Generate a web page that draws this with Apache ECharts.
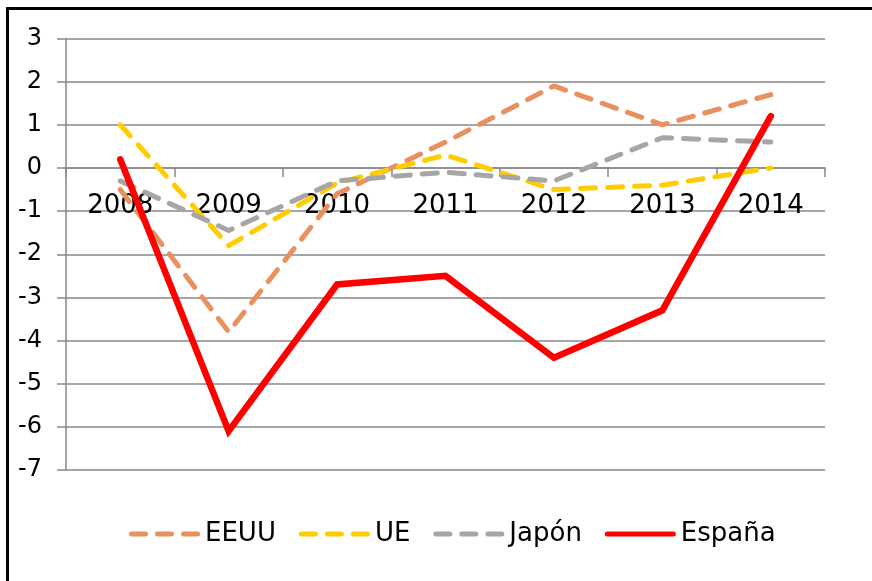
<!DOCTYPE html>
<html>
<head>
<meta charset="utf-8">
<script src="https://cdn.jsdelivr.net/npm/echarts@6/dist/echarts.min.js"></script>
<style>html,body{margin:0;padding:0;background:#fff;}#c{width:872px;height:581px;}</style>
</head>
<body>
<div id="c"></div>
<script>
var years = ['2008','2009','2010','2011','2012','2013','2014'];
var eeuu = [-0.5, -3.8, -0.6, 0.6, 1.9, 1.0, 1.7];
var ue = [1.0, -1.8, -0.35, 0.3, -0.5, -0.4, 0.0];
var japon = [-0.3, -1.45, -0.3, -0.1, -0.3, 0.7, 0.6];
var espana = [0.2, -6.1, -2.7, -2.5, -4.4, -3.3, 1.2];
var seriesNames = ['EEUU', 'UE', 'Japón', 'España'];
var yMin = -7, yMax = 3, yStep = 1;

var font = 'DejaVu Sans, Verdana, sans-serif';
var gridTop = 38.5, gridBottom = 111, chartH = 581;
var plotH = chartH - gridTop - gridBottom;
var zeroGridH = plotH * (yMax - 0) / (yMax - yMin);

function capsule(x0, x1, h) {
  var r = h / 2;
  return 'M' + (x0 + r) + ',0 L' + (x1 - r) + ',0 A' + r + ',' + r + ' 0 0 1 ' + (x1 - r) + ',' + h +
    ' L' + (x0 + r) + ',' + h + ' A' + r + ',' + r + ' 0 0 1 ' + (x0 + r) + ',0 Z ';
}
var dashIcon = 'path://' + capsule(0, 19, 5) + capsule(26, 45, 5) + capsule(52, 71, 5);
var solidIcon = 'path://' + capsule(0, 71, 5);

var chart = echarts.init(document.getElementById('c'), null, {renderer: 'canvas'});
function dashed(name, data, color) {
  return {
    name: name, type: 'line', data: data, symbol: 'none', smooth: false,
    xAxisIndex: 0, yAxisIndex: 0,
    lineStyle: {color: color, width: 5, type: [15, 12], cap: 'round', join: 'round'},
    itemStyle: {color: color}
  };
}
chart.setOption({
  animation: false,
  backgroundColor: '#fff',
  graphic: [{
    type: 'rect', z: 100,
    shape: {x: 7.5, y: 8.5, width: 900, height: 600},
    style: {fill: 'none', stroke: '#000', lineWidth: 3}
  }],
  grid: [
    {left: 66, right: 47, top: gridTop, bottom: gridBottom},
    {left: 66, right: 47, top: gridTop, height: zeroGridH}
  ],
  legend: {
    show: true, orient: 'horizontal',
    left: 124, top: 516, itemWidth: 71, itemHeight: 5.5, itemGap: 23,
    data: [
      {name: seriesNames[0], icon: dashIcon},
      {name: seriesNames[1], icon: dashIcon},
      {name: seriesNames[2], icon: dashIcon},
      {name: seriesNames[3], icon: solidIcon}
    ],
    textStyle: {fontFamily: font, fontSize: 26, color: '#000'}
  },
  xAxis: [
    {
      type: 'category', data: years, boundaryGap: true, gridIndex: 0, show: false
    },
    {
      type: 'category', data: years, boundaryGap: true, gridIndex: 1, position: 'bottom',
      axisLine: {show: true, onZero: false, lineStyle: {color: '#888', width: 1.5}},
      axisTick: {show: true, length: 9, interval: 0, lineStyle: {color: '#888', width: 1.5}},
      axisLabel: {interval: 0, margin: 25, fontFamily: font, fontSize: 26, color: '#000'},
      splitLine: {show: false}
    }
  ],
  yAxis: [
    {
      type: 'value', min: yMin, max: yMax, interval: yStep, gridIndex: 0,
      axisLine: {show: true, lineStyle: {color: '#888', width: 1.5}},
      axisTick: {show: true, length: 9, lineStyle: {color: '#888', width: 1.5}},
      axisLabel: {margin: 24, fontFamily: font, fontSize: 24, color: '#000'},
      splitLine: {show: true, lineStyle: {color: '#888', width: 1.5}}
    },
    {
      type: 'value', min: 0, max: yMax, gridIndex: 1, show: false
    }
  ],
  series: [
    dashed(seriesNames[0], eeuu, '#EA8F5E'),
    dashed(seriesNames[1], ue, '#FFCC00'),
    dashed(seriesNames[2], japon, '#A6A6A6'),
    {
      name: seriesNames[3], type: 'line', data: espana, symbol: 'none',
      xAxisIndex: 0, yAxisIndex: 0,
      lineStyle: {color: '#FF0000', width: 6.5, cap: 'round', join: 'miter'},
      itemStyle: {color: '#FF0000'}
    }
  ]
});
</script>
</body>
</html>
